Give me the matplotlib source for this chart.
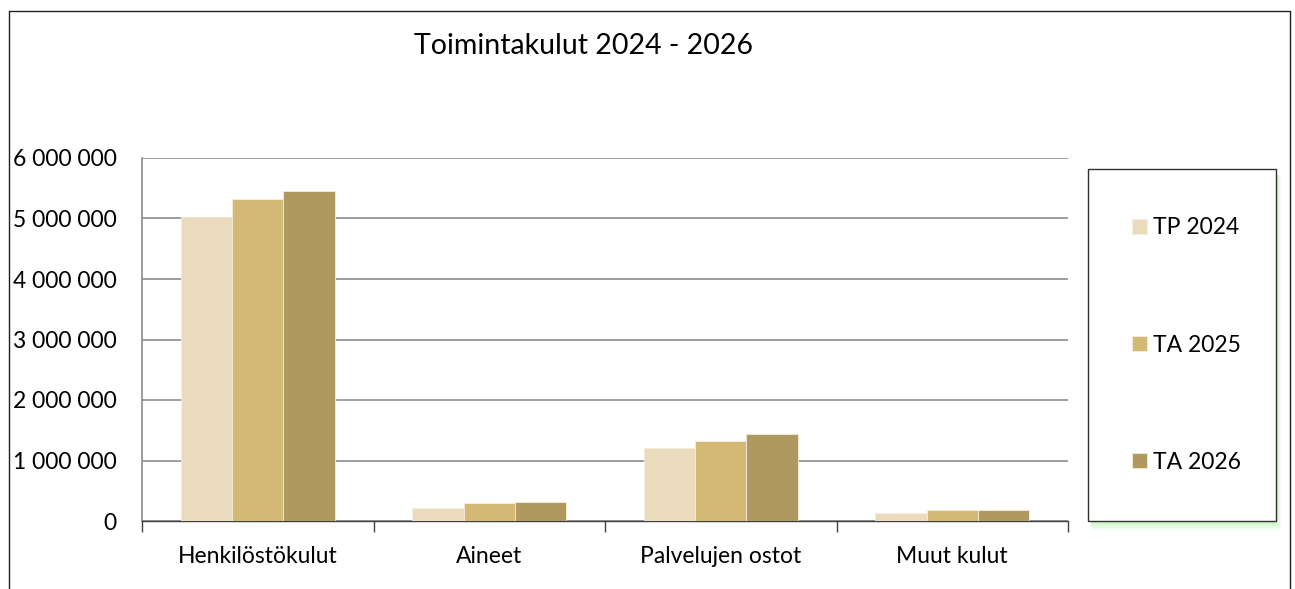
import numpy as np
import matplotlib
matplotlib.use("Agg")
import matplotlib.pyplot as plt
from matplotlib.patches import Rectangle
from matplotlib.lines import Line2D
from matplotlib.ticker import FuncFormatter

# data
categories = ["Henkilöstökulut", "Aineet", "Palvelujen ostot", "Muut kulut"]
series_names = ["TP 2024", "TA 2025", "TA 2026"]
tp_2024 = [5020000, 220000, 1210000, 127000]
ta_2025 = [5320000, 290000, 1330000, 180000]
ta_2026 = [5450000, 310000, 1430000, 180000]
colors = ["#E9DBBB", "#D4B975", "#B0995F"]
title = "Toimintakulut 2024 - 2026"

W, H = 1295, 589
plt.rcParams["font.family"] = ["Lato", "DejaVu Sans"]

fig = plt.figure(figsize=(W / 100, H / 100), dpi=100)


def px_box(x0, y0, x1, y1):
    # pixel box (top-left origin) -> figure fraction rect
    return [x0 / W, (H - y1) / H, (x1 - x0) / W, (y1 - y0) / H]


ax = fig.add_axes(px_box(142, 158, 1068, 521))

x = np.arange(len(categories))
bw = 0.222
handles = []
for i, (vals, c, name) in enumerate(zip([tp_2024, ta_2025, ta_2026], colors, series_names)):
    b = ax.bar(x + (i - 1) * bw, vals, bw, color=c, edgecolor="#F4EEDD",
               linewidth=0.6, label=name, zorder=3)
    handles.append(b)

ax.set_xlim(-0.5, len(categories) - 0.5)
ax.set_ylim(0, 6000000)
ax.set_yticks(np.arange(0, 6000001, 1000000))
ax.yaxis.set_major_formatter(FuncFormatter(lambda v, p: f"{int(v):,}".replace(",", " ")))
ax.grid(axis="y", color="#8C8C8C", linewidth=1.2, zorder=0)
ax.set_axisbelow(True)

ax.set_xticks(x)
ax.set_xticklabels(categories)
ax.set_xticks(np.arange(-0.5, len(categories)), minor=True)
ax.tick_params(axis="x", which="major", length=0, labelsize=16.5, pad=18)
ax.tick_params(axis="x", which="minor", length=8, width=1, color="#404040")
ax.tick_params(axis="y", length=0, labelsize=16.5, pad=18)

for s in ["top", "right"]:
    ax.spines[s].set_visible(False)
ax.spines["left"].set_color("#8C8C8C")
ax.spines["left"].set_linewidth(1.2)
ax.spines["bottom"].set_color("#404040")
ax.spines["bottom"].set_linewidth(1)

fig.text(584 / W, 1 - 46 / H, title, ha="center", va="center", fontsize=20.5)

# legend box with soft green glow
lx0, ly0, lx1, ly1 = 1088, 169, 1276, 521
for k, a in enumerate([0.15, 0.2, 0.25, 0.35]):
    off = 9 - 2 * k
    r = px_box(lx0 + 3, ly0 + 6, lx1 + off * 0.5, ly1 + off)
    fig.patches.append(Rectangle((r[0], r[1]), r[2], r[3], transform=fig.transFigure,
                                 facecolor="#B8F5B0", edgecolor="none", alpha=a, zorder=0))
r = px_box(lx0, ly0, lx1, ly1)
fig.patches.append(Rectangle((r[0], r[1]), r[2], r[3], transform=fig.transFigure,
                             facecolor="white", edgecolor="#303030", linewidth=1, zorder=1))

leg = fig.legend(handles=handles, labels=series_names, loc="center left",
                 bbox_to_anchor=(1121 / W, 1 - 345 / H), frameon=False, fontsize=16.5,
                 handlelength=0.65, handleheight=0.65, handletextpad=0.25,
                 labelspacing=4.2, borderpad=0)

# outer chart border
fig.add_artist(Line2D([9 / W, 9 / W, 1290 / W, 1290 / W], [0, 1 - 11 / H, 1 - 11 / H, 0],
                      transform=fig.transFigure, color="#202020", linewidth=1))

fig.savefig("out.png", dpi=100)
